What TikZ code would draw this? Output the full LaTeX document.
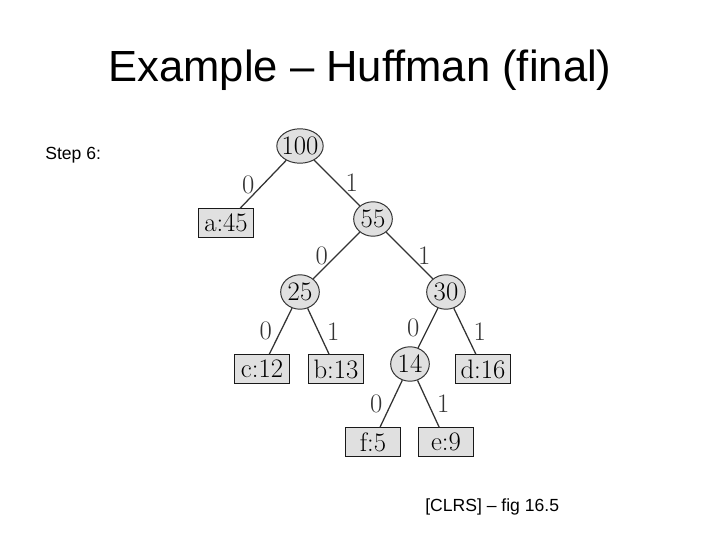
\documentclass[tikz,border=0pt]{standalone}
\usepackage{fontspec}
\setmainfont{Liberation Sans}
\newfontfamily\treefont{Latin Modern Roman}
\usetikzlibrary{shapes.geometric}

\begin{document}
\begin{tikzpicture}[x=0.25mm,y=-0.25mm]
			\tikzstyle{vertex}=[ellipse,draw=black!80,fill=black!12,line width=0.7pt,minimum width=27.5pt,minimum height=24.5pt,inner xsep=-2pt,inner ysep=2pt,font=\treefont\fontsize{19}{19}\selectfont]
			\tikzstyle{leaf}=[rectangle,draw=black!90,fill=black!12,line width=0.7pt,minimum width=38.5pt,minimum height=20pt,inner sep=1pt,font=\treefont\fontsize{19}{19}\selectfont]
			\tikzstyle{branch}=[draw,line width=0.9pt,black!80]
			\tikzstyle{bit}=[inner sep=0pt,font=\treefont\fontsize{19}{19}\selectfont]
			
			\useasboundingbox (0,0) rectangle (720,540);
			
			\node[font=\fontsize{31}{36}\selectfont] (title) at (360,70) {Example -- Huffman (final)};
			\node[anchor=west,font=\fontsize{12.5}{15}\selectfont,inner sep=0pt] (step) at (45,155) {Step 6:};
			\node[anchor=west,font=\fontsize{12.5}{15}\selectfont,inner sep=0pt] (src) at (425,507) {[CLRS] -- fig 16.5};
			
			\node[vertex,minimum width=33pt] (n100) at (300,146) {100};
			\node[leaf] (a) at (226,223) {a:45};
			\node[vertex] (n55) at (373,219) {55};
			\node[vertex] (n25) at (300,292) {25};
			\node[vertex] (n30) at (446,292) {30};
			\node[leaf] (c) at (262,369) {c:12};
			\node[leaf] (b) at (336,369) {b:13};
			\node[vertex] (n14) at (410,364) {14};
			\node[leaf] (d) at (483,369) {d:16};
			\node[leaf] (f) at (373,442) {f:5};
			\node[leaf] (e) at (446,442) {e:9};
			
			\draw[branch] (n100) -- node[bit,left=2mm] {0} (a);
			\draw[branch] (n100) -- node[bit,right=2mm] {1} (n55);
			\draw[branch] (n55) -- node[bit,left=2mm] {0} (n25);
			\draw[branch] (n55) -- node[bit,right=2mm] {1} (n30);
			\draw[branch] (n25) -- node[bit,left=2mm] {0} (c);
			\draw[branch] (n25) -- node[bit,right=2mm] {1} (b);
			\draw[branch] (n30) -- node[bit,left=2mm] {0} (n14);
			\draw[branch] (n30) -- node[bit,right=2mm] {1} (d);
			\draw[branch] (n14) -- node[bit,left=2mm] {0} (f);
			\draw[branch] (n14) -- node[bit,right=2mm] {1} (e);
		\end{tikzpicture}
\end{document}
